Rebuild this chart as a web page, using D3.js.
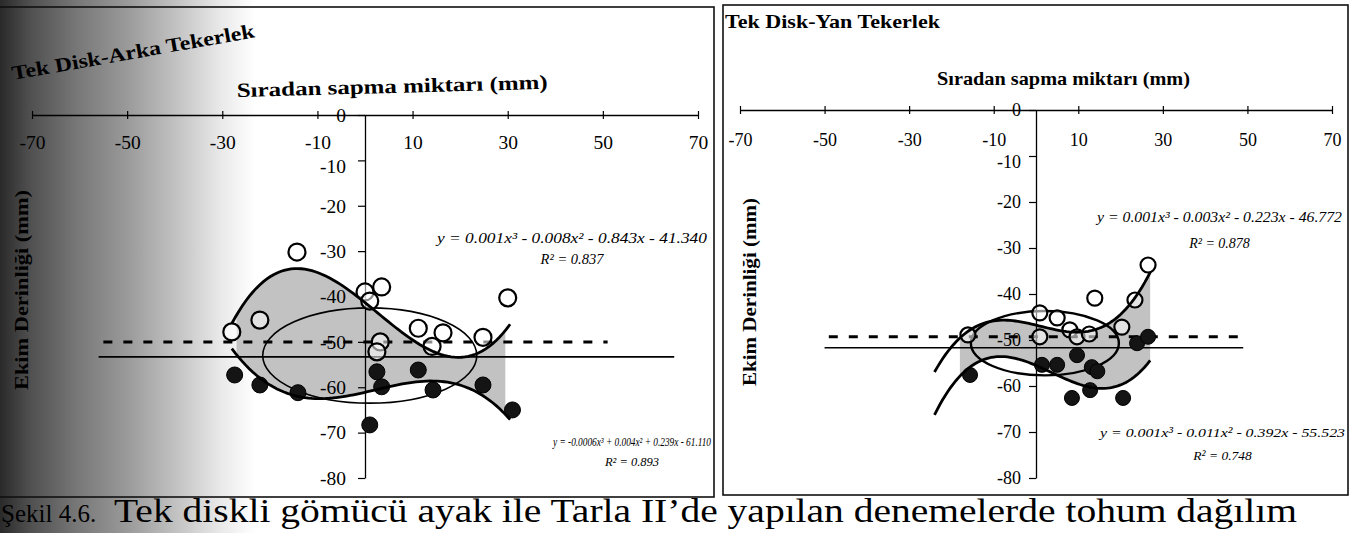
<!DOCTYPE html>
<html>
<head>
<meta charset="utf-8">
<script src="https://cdn.jsdelivr.net/npm/d3@7"></script>
<style>
  body { margin: 0; background: #fff; }
  svg { display: block; }
</style>
</head>
<body>
<svg id="fig" width="1354" height="533"></svg>
<script>
// ---- Shared axis definitions ----
const xTicks = [-70, -50, -30, -10, 10, 30, 50, 70];
const yTicks = [0, -10, -20, -30, -40, -50, -60, -70, -80];
const xDomain = [-70, 70];
const yDomain = [0, -80];

// ---- Tek Disk-Arka Tekerlek: [sapma (mm), derinlik (mm)] ----
const arkaOpen = [[-28, -47.8], [-22.1, -45.2], [-14.3, -30.2], [0, -39], [3.5, -37.9], [1, -41],
                  [3.2, -50], [2.5, -52.2], [11.2, -47], [16.4, -48], [14.1, -51], [24.8, -49], [30, -40.3]];
const arkaFilled = [[-27.4, -57.3], [-22.1, -59.5], [-14.1, -61.2], [2.5, -56.6], [3.5, -59.9],
                    [11.2, -56.2], [14.3, -60.6], [24.8, -59.5], [31, -65], [1, -68.3]];
const arkaOpenFit = ["0.001", "-0.008", "-0.843", "-41.340"];
const arkaFilledFit = ["-0.0006", "0.004", "0.239", "-61.110"];
const arkaR2 = ["0.837", "0.893"];
const arkaFitRange = [-28, 30.5];
const arkaBandRange = [-27, 29.5];
const arkaDashed = [[-55, -50], [51, -50]];
const arkaSolid = [[-56, -53.3], [65, -53.3]];
const arkaEllipse = [1, -53, 22.5, 10.5];   // cx, cy, rx, ry in axis units

// ---- Tek Disk-Yan Tekerlek ----
const yanOpen = [[-16.1, -48.9], [0.9, -44.1], [5, -45.2], [0.9, -49.3], [8, -47.8], [9.7, -49.3],
                 [12.6, -48.7], [13.9, -40.9], [20.3, -47.2], [23.4, -41.3], [26.5, -33.7]];
const yanFilled = [[-15.6, -57.6], [1.4, -55.4], [5, -55.4], [9.7, -53.3], [13.2, -55.9], [14.5, -56.8],
                   [8.5, -62.6], [12.8, -60.9], [20.6, -62.6], [23.9, -50.7], [26.5, -49.3]];
const yanOpenFit = ["0.001", "-0.003", "-0.223", "-46.772"];
const yanFilledFit = ["0.001", "-0.011", "-0.392", "-55.523"];
const yanR2 = ["0.878", "0.748"];
const yanFitRange = [-24, 27];
const yanBandRange = [-18, 27];
const yanDashed = [[-49, -49.3], [50, -49.3]];
const yanSolid = [[-50, -51.7], [49, -51.7]];
const yanEllipse = [2.1, -50.7, 17.5, 7];

const SERIF = "'Liberation Serif', 'Times New Roman', Tinos, serif";
const svg = d3.select("#fig");

// page gutter shadow on the left edge
const defs = svg.append("defs");
const grad = defs.append("linearGradient").attr("id", "gutter")
  .attr("x1", 0).attr("x2", 1).attr("y1", 0).attr("y2", 0);
[[0, "#2a2a2a"], [0.12, "#505050"], [0.3, "#777"], [0.5, "#9a9a9a"], [0.7, "#c4c4c4"], [0.86, "#e8e8e8"], [1, "#fff"]]
  .forEach(([o, c]) => grad.append("stop").attr("offset", o).attr("stop-color", c));
svg.append("rect").attr("x", 0).attr("y", 0).attr("width", 255).attr("height", 533).attr("fill", "url(#gutter)");

const cubic = c => { const [a3, a2, a1, a0] = c.map(Number); return x => ((a3 * x + a2) * x + a1) * x + a0; };
function eqText(c) {
  const pw = ["x³", "x²", "x", ""];
  let s = "y = " + c[0] + pw[0];
  for (let i = 1; i < 4; i++) s += (c[i].startsWith("-") ? " - " + c[i].slice(1) : " + " + c[i]) + pw[i];
  return s;
}
const sample = (r, n) => d3.range(n + 1).map(i => r[0] + (r[1] - r[0]) * i / n);

function drawPanel(L, D) {
  const g = svg.append("g");
  const x = d3.scaleLinear().domain(xDomain).range(L.xRange);
  const y = d3.scaleLinear().domain(yDomain).range(L.yRange);
  const fo = cubic(D.openFit), ff = cubic(D.filledFit);

  // frame
  g.append("rect").attr("x", L.frame[0]).attr("y", L.frame[1]).attr("width", L.frame[2]).attr("height", L.frame[3])
    .attr("fill", "none").attr("stroke", "#111").attr("stroke-width", 1.6);

  // shaded band between the two trend curves
  const bx = sample(D.bandRange, 80);
  g.append("path").datum(bx)
    .attr("d", d3.area().x(v => x(v)).y0(v => y(ff(v))).y1(v => y(fo(v))))
    .attr("fill", "#c2c2c2");

  // reference lines
  const line = d3.line().x(d => x(d[0])).y(d => y(d[1]));
  g.append("path").attr("d", line(D.solid)).attr("stroke", "#000").attr("stroke-width", 1.6).attr("fill", "none");
  g.append("path").attr("d", line(D.dashed)).attr("stroke", "#000").attr("stroke-width", 3)
    .attr("stroke-dasharray", "9 11").attr("fill", "none");

  // envelope ellipse
  const [ecx, ecy, erx, ery] = D.ellipse;
  g.append("ellipse").attr("cx", x(ecx)).attr("cy", y(ecy))
    .attr("rx", x(ecx + erx) - x(ecx)).attr("ry", y(ecy - ery) - y(ecy))
    .attr("fill", "none").attr("stroke", "#000").attr("stroke-width", L.ellipseW);

  // axes
  const xa = g.append("g").attr("transform", `translate(0,${y(0)})`)
    .call(d3.axisBottom(x).tickValues(xTicks).tickSizeInner(4).tickSizeOuter(0).tickPadding(L.xPad).tickFormat(d => String(d)));
  xa.selectAll(".tick line").attr("y1", -4);
  const ya = g.append("g").attr("transform", `translate(${x(0)},0)`)
    .call(d3.axisLeft(y).tickValues(yTicks).tickSizeInner(7).tickSizeOuter(0).tickPadding(L.yPad).tickFormat(d => String(d)));
  [xa, ya].forEach(a => {
    a.select(".domain").attr("stroke", "#000").attr("stroke-width", 1.3);
    a.selectAll(".tick line").attr("stroke", "#000").attr("stroke-width", 1.2);
    a.selectAll("text").attr("font-family", SERIF).attr("font-size", L.tickFont).attr("fill", "#000");
  });
  // the -10 label on the vertical axis sits just under its horizontal twin; nudge it down a little
  ya.selectAll(".tick").filter(d => d === -10).select("text").attr("dy", "0.62em");

  // points
  g.append("g").selectAll("circle").data(D.open).join("circle")
    .attr("cx", d => x(d[0])).attr("cy", d => y(d[1])).attr("r", L.rOpen)
    .attr("fill", "rgba(255,255,255,0.55)").attr("stroke", "#000").attr("stroke-width", 2.2);
  g.append("g").selectAll("circle").data(D.filled).join("circle")
    .attr("cx", d => x(d[0])).attr("cy", d => y(d[1])).attr("r", L.rFilled)
    .attr("fill", "#141414").attr("stroke", "#000").attr("stroke-width", 1);

  // cubic trend lines
  const fx = sample(D.fitRange, 80);
  [fo, ff].forEach(f => g.append("path").attr("d", d3.line().x(v => x(v)).y(v => y(f(v)))(fx))
    .attr("fill", "none").attr("stroke", "#000").attr("stroke-width", 2.8));

  // titles
  g.append("text").attr("transform", `translate(${L.title[0]},${L.title[1]}) rotate(${L.title[2]})`)
    .attr("font-family", SERIF).attr("font-weight", "bold").attr("font-size", L.titleFont)
    .attr("textLength", L.title[3]).attr("lengthAdjust", "spacingAndGlyphs").text(D.title);
  g.append("text").attr("transform", `translate(${L.xTitle[0]},${L.xTitle[1]}) rotate(${L.xTitle[2]})`)
    .attr("font-family", SERIF).attr("font-weight", "bold").attr("font-size", L.titleFont)
    .attr("textLength", L.xTitle[3]).attr("lengthAdjust", "spacingAndGlyphs").text("Sıradan sapma miktarı (mm)");
  g.append("text").attr("transform", `translate(${L.yTitle[0]},${L.yTitle[1]}) rotate(-90)`)
    .attr("text-anchor", "middle").attr("font-family", SERIF).attr("font-weight", "bold")
    .attr("font-size", L.yTitleFont).attr("textLength", L.yTitle[2]).attr("lengthAdjust", "spacingAndGlyphs")
    .text("Ekim Derinliği (mm)");

  // equation labels
  const eqs = [[D.openFit, D.r2[0], L.eq1], [D.filledFit, D.r2[1], L.eq2]];
  eqs.forEach(([c, r2, p]) => {
    g.append("text").attr("x", p[0]).attr("y", p[1]).attr("font-family", SERIF).attr("font-style", "italic")
      .attr("font-size", p[3]).attr("textLength", p[2]).attr("lengthAdjust", "spacingAndGlyphs").text(eqText(c));
    g.append("text").attr("x", p[0] + p[2] / 2).attr("y", p[1] + p[4]).attr("text-anchor", "middle")
      .attr("font-family", SERIF).attr("font-style", "italic").attr("font-size", p[3]).text("R² = " + r2);
  });
}

drawPanel({
  frame: [-10, 7, 724, 490], xRange: [32, 698], yRange: [115, 478],
  xPad: 16, yPad: 12, tickFont: 19.5, rOpen: 8.5, rFilled: 8, ellipseW: 1.6,
  title: [13, 80, -10, 246], xTitle: [237, 97, -1.5, 311], yTitle: [28, 290, 200], titleFont: 20, yTitleFont: 19,
  eq1: [437, 243, 270, 14.5, 21], eq2: [553, 446, 158, 12.5, 20]
}, {
  title: "Tek Disk-Arka Tekerlek", open: arkaOpen, filled: arkaFilled,
  openFit: arkaOpenFit, filledFit: arkaFilledFit, r2: arkaR2, fitRange: arkaFitRange, bandRange: arkaBandRange,
  dashed: arkaDashed, solid: arkaSolid, ellipse: arkaEllipse
});

drawPanel({
  frame: [723, 5, 625, 490], xRange: [740, 1332], yRange: [110, 478],
  xPad: 19, yPad: 8, tickFont: 18, rOpen: 7.5, rFilled: 7.5, ellipseW: 2.4,
  title: [725, 28, 0, 215], xTitle: [937, 85, 0, 253], yTitle: [756, 292, 188], titleFont: 19, yTitleFont: 18,
  eq1: [1097, 222, 245, 14, 26], eq2: [1100, 437, 245, 13.5, 23]
}, {
  title: "Tek Disk-Yan Tekerlek", open: yanOpen, filled: yanFilled,
  openFit: yanOpenFit, filledFit: yanFilledFit, r2: yanR2, fitRange: yanFitRange, bandRange: yanBandRange,
  dashed: yanDashed, solid: yanSolid, ellipse: yanEllipse
});

// figure caption: number, then the descriptive line
svg.append("text").attr("x", 1).attr("y", 522).attr("font-family", SERIF).attr("font-size", 25)
  .text("Şekil 4.6.");
svg.append("text").attr("x", 114).attr("y", 522).attr("font-family", SERIF).attr("font-size", 33)
  .attr("textLength", 1183).attr("lengthAdjust", "spacingAndGlyphs")
  .text("Tek diskli gömücü ayak ile Tarla II’de yapılan denemelerde tohum dağılım");
</script>
</body>
</html>
